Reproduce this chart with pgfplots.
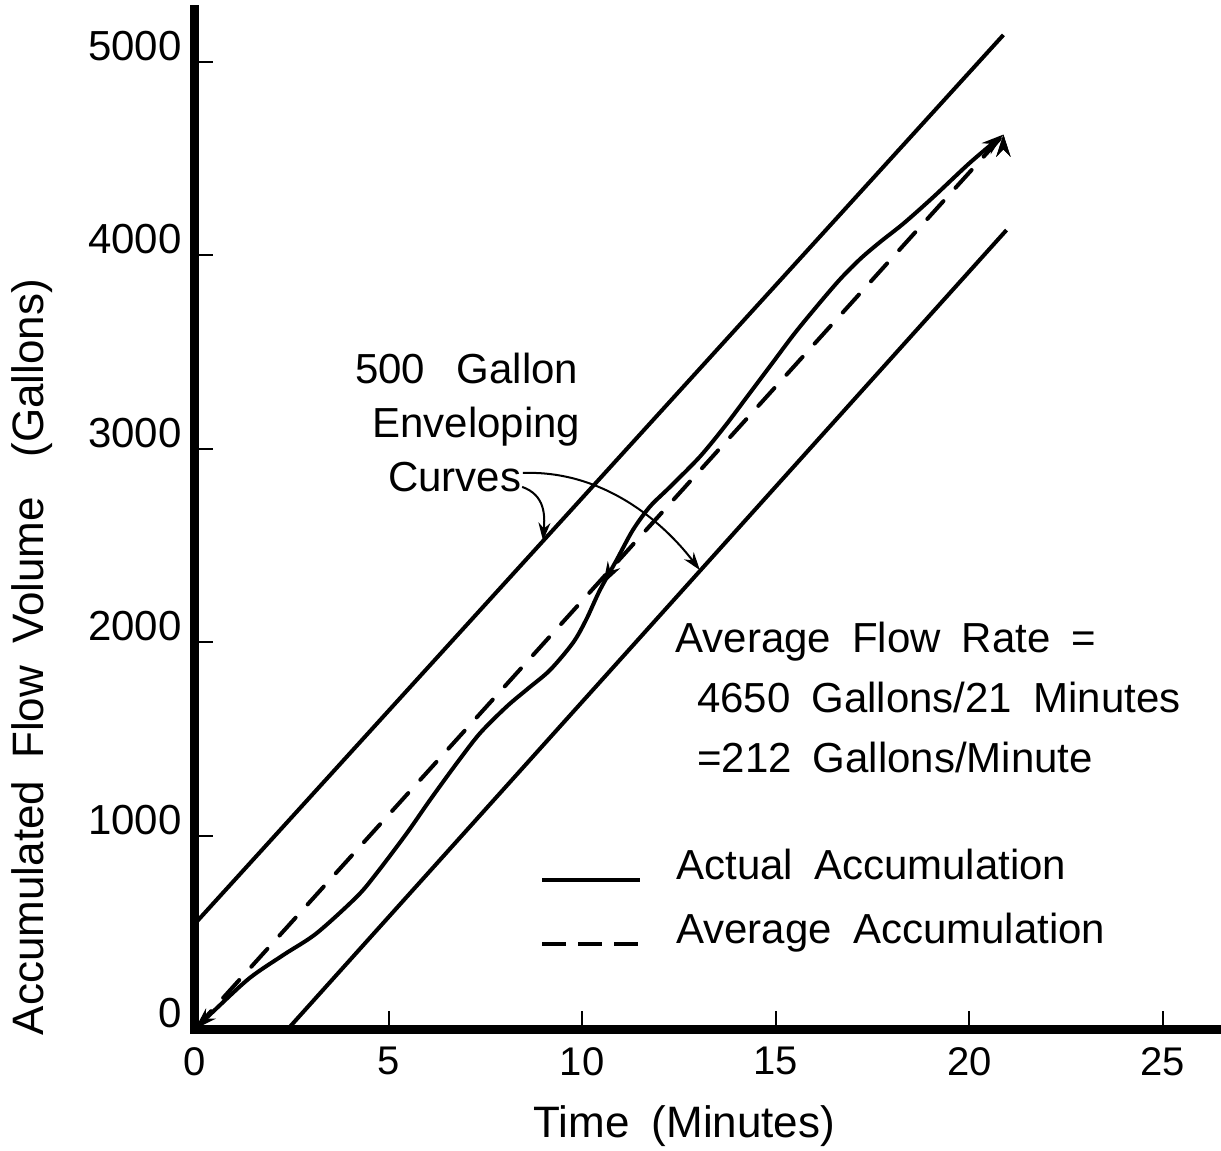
\documentclass[border=0pt]{standalone}
\usepackage{fontspec}
\setmainfont{Liberation Sans}[WordSpace=1.8]
\usepackage{pgfplots}
\usepackage{pgfplotstable}
\pgfplotsset{compat=1.18}
\usetikzlibrary{arrows.meta,decorations.markings}

\pgfplotstableread{
x y
0 0
0.6 115
1.42 265
2.3 385
3.14 495
4.18 684
4.69 805
5.47 1012
6.07 1184
6.76 1374
7.36 1529
8.05 1667
8.6 1760
9.17 1856
9.76 1996
10.1 2115
10.46 2270
10.89 2425
11.31 2580
11.75 2701
12.27 2803
13.04 2959
13.7 3120
14.3 3280
14.9 3440
15.5 3600
16.2 3770
16.7 3885
17.2 3985
17.7 4070
18.3 4165
19.06 4300
20.02 4480
20.88 4625
}\actualtbl

\pgfplotstableread{
x y
0 0
20.9 4628
}\averagetbl

\pgfplotstableread{
x y
0 545
20.88 5140
}\uppertbl

\pgfplotstableread{
x y
2.4 0
20.96 4131
}\lowertbl

\begin{document}
\begin{tikzpicture}
\begin{axis}[
  scale only axis, width=513pt, height=509.5pt,
  xmin=0, xmax=26.5, ymin=0, ymax=5269,
  axis x line=bottom, axis y line=left,
  axis line style={-, line width=4.5pt, line cap=rect},
  xtick={0,5,10,15,20,25}, ytick={0,1000,2000,3000,4000,5000},
  tick align=inside, major tick length=9pt,
  every tick/.style={black, line width=1pt},
  /pgf/number format/assume math mode=true,
  /pgf/number format/1000 sep={},
  xticklabel style={font=\fontsize{20}{20}\selectfont, anchor=north, inner sep=0pt, yshift=-9pt},
  yticklabel style={font=\fontsize{21}{21}\selectfont, anchor=east, inner sep=0pt, xshift=-6.5pt, yshift=8pt},
  xlabel={Time (Minutes)},
  ylabel={Accumulated Flow Volume\hspace{0.4em} (Gallons)},
  xlabel style={font=\fontsize{22}{22}\selectfont, at={(axis description cs:0.477,-0.0952)}, anchor=center},
  ylabel style={font=\fontsize{22}{22}\selectfont, at={(axis description cs:-0.1585,0.365)}, anchor=center},
  clip=false,
  legend style={draw=none, fill=none, at={(axis cs:8.91,941)}, anchor=north west, inner sep=0pt, row sep=11pt,
    column sep=17pt,
    font=\fontsize{21}{21}\selectfont, nodes={inner sep=0pt, text height=16pt, text depth=5pt}},
  legend cell align=left,
  legend image code/.code={\draw[#1] (0pt,-6pt) -- (49pt,-6pt);},
]
\addplot[black, line width=2pt, smooth, tension=0.5, forget plot,
  {Stealth[length=11pt,width=7pt]}-{Stealth[length=11pt,width=7pt]},
  postaction={decorate, decoration={markings, mark=at position 0.52 with {\arrow{Stealth[length=11pt,width=7pt,reversed]}}}}]
  table[x=x,y=y] {\actualtbl};
\addplot[black, line width=2pt, dash pattern=on 12pt off 9pt, line cap=round, forget plot] table[x=x,y=y] {\averagetbl};
\addplot[black, line width=2pt, forget plot] table[x=x,y=y] {\uppertbl};
\addplot[black, line width=2pt, forget plot] table[x=x,y=y] {\lowertbl};

\addlegendimage{black, line width=2pt}
\addlegendentry{Actual Accumulation}
\addlegendimage{black, line width=2pt, dash pattern=on 12pt off 6pt}
\addlegendentry{Average Accumulation}

\draw[black, line width=1pt, -{Stealth[length=9pt,width=6pt]}] (axis cs:8.45,2803) .. controls (axis cs:9.04,2761) and (axis cs:9.04,2658) .. (axis cs:8.99,2525);
\draw[black, line width=1pt, -{Stealth[length=9pt,width=6pt]}] (axis cs:8.47,2875) .. controls (axis cs:10.5,2890) and (axis cs:12.05,2632) .. (axis cs:13.04,2373);

\node[font=\fontsize{21}{21}\selectfont, anchor=base west, inner sep=0pt] at (axis cs:4.13,3340) {500\hspace{0.25em} Gallon};
\node[font=\fontsize{21}{21}\selectfont, anchor=base west, inner sep=0pt] at (axis cs:4.57,3056) {Enveloping};
\node[font=\fontsize{21}{21}\selectfont, anchor=base west, inner sep=0pt] at (axis cs:4.98,2777) {Curves};
\node[font=\fontsize{21}{21}\selectfont, anchor=base west, inner sep=0pt] at (axis cs:12.40,1949) {Average Flow Rate =};
\node[font=\fontsize{21}{21}\selectfont, anchor=base west, inner sep=0pt] at (axis cs:12.96,1639) {4650 Gallons/21 Minutes};
\node[font=\fontsize{21}{21}\selectfont, anchor=base west, inner sep=0pt] at (axis cs:12.96,1324) {=212 Gallons/Minute};

\coordinate (bbA) at (axis cs:-5.036,-630.8);
\coordinate (bbB) at (axis cs:26.5,5320.6);
\end{axis}
\pgfresetboundingbox
\useasboundingbox (bbA) rectangle (bbB);
\end{tikzpicture}
\end{document}
